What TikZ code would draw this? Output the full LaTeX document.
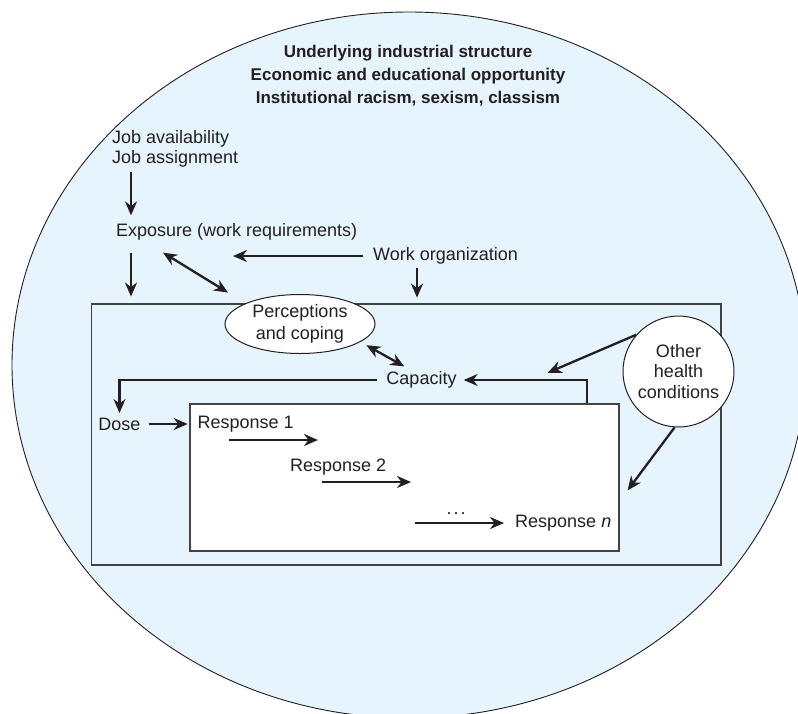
\documentclass[tikz,border=0pt]{standalone}
\usepackage{fontspec}
\setmainfont{Liberation Sans}
\usetikzlibrary{arrows.meta,shapes.geometric,positioning}

\definecolor{skyfill}{RGB}{230,245,253}
\definecolor{inkline}{RGB}{35,31,32}

\tikzset{
  arr/.style={-{Stealth[length=14pt,width=12pt,inset=4.5pt]}, line width=2.3pt, draw=inkline},
  dblarr/.style={{Stealth[length=14pt,width=12pt,inset=4.5pt]}-{Stealth[length=14pt,width=12pt,inset=4.5pt]}, line width=2.3pt, draw=inkline},
  lbl/.style={inner sep=0pt, font=\fontsize{18}{20}\selectfont, text=inkline},
  bubble/.style={lbl, draw=inkline, fill=white, line width=1pt, align=center},
  frame/.style={draw=inkline!85, line width=1.3pt, inner sep=0pt},
}

\begin{document}
\begin{tikzpicture}[x=1pt, y=-1pt]

    \useasboundingbox (0,0) rectangle (798,713);
    \fill[white] (0,0) rectangle (798,713);

    % surrounding context
    \draw[fill=skyfill, draw=inkline, line width=0.9pt] (409,365) ellipse [x radius=397, y radius=353];

    % work setting and body
    \node[frame, minimum width=629.4pt, minimum height=261pt] (setting) at (406.3,434.5) {};
    \node[frame, fill=white, minimum width=429pt, minimum height=147pt] (body) at (404.5,477.5) {};

    \node[lbl, align=center, font=\bfseries\fontsize{17}{23}\selectfont] (context) at (408,76)
        {Underlying industrial structure\\Economic and educational opportunity\\Institutional racism, sexism, classism};

    \node[lbl, align=left, anchor=west] (job) at (112,149) {Job availability\\Job assignment};
    \node[lbl, anchor=west] (expo) at (116,232) {Exposure (work requirements)};
    \node[lbl, anchor=west] (workorg) at (373,256) {Work organization};

    \node[bubble, ellipse, minimum width=150pt, minimum height=59pt, font=\fontsize{18}{22}\selectfont] (percep) at (300,324) {Perceptions\\and coping};
    \node[bubble, circle, minimum size=111pt, font=\fontsize{18}{20.5}\selectfont] (other) at (678.5,371.5) {Other\\health\\conditions};

    \node[lbl] (capacity) at (421.5,380) {Capacity};
    \node[lbl] (dose) at (119.5,424) {Dose};
    \node[lbl, anchor=west] (resp1) at (197.5,424) {Response 1};
    \node[lbl, anchor=west] (resp2) at (290,467) {Response 2};
    \node[lbl, anchor=base] (dots) at (456,514) {.\kern2pt.\kern2pt.};
    \node[lbl, anchor=west] (respn) at (515,523) {Response \textit{n}};

    % arrows
    \draw[arr] ([shift={(19,4)}]job.south west) -- ([shift={(15,-8)}]expo.north west);
    \draw[arr] ([shift={(15,12)}]expo.south west) -- ++(0,44);
    \draw[dblarr] ([shift={(47,12)}]expo.south west) -- ++(65,40);
    \draw[arr] ([xshift=-10pt]workorg.west) -- ++(-130,0);
    \draw[arr] ([shift={(44,3)}]workorg.south west) -- ++(0,30);
    \draw[dblarr] ([xshift=13pt]percep.south east) -- ([shift={(18,-5)}]capacity.north west);
    \draw[arr] ([xshift=-9pt]capacity.west) -| ([yshift=4.5pt]dose.north);
    \draw[arr] ([xshift=182.5pt]body.north) |- ([xshift=7pt]capacity.east);
    \draw[arr] (other.139) -- ++(-88.6,38);
    \draw[arr] (other.266) -- ++(-47,63);
    \draw[arr] ([xshift=8pt]dose.east) -- ++(39,0);
    \draw[arr] ([shift={(31.5,16)}]resp1.west) -- ++(89,0);
    \draw[arr] ([shift={(32,15)}]resp2.west) -- ++(89,0);
    \draw[arr] ([xshift=-100pt]respn.west) -- ([xshift=-11pt]respn.west);

\end{tikzpicture}
\end{document}
